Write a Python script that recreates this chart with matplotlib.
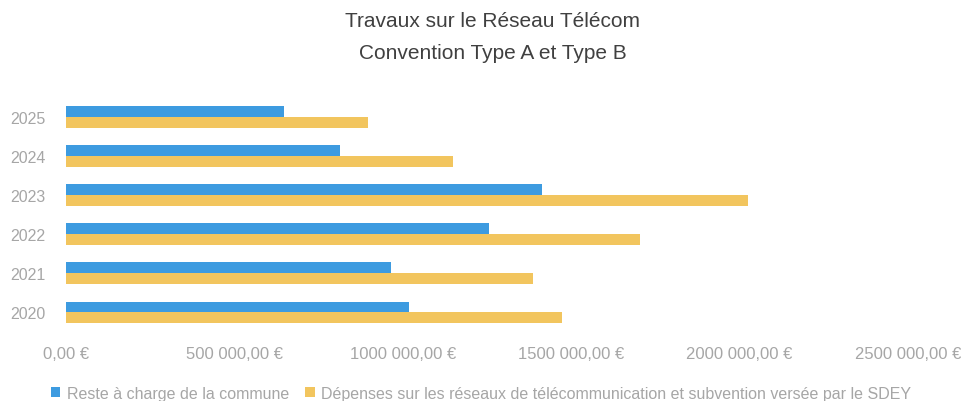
import matplotlib
matplotlib.use("Agg")
import matplotlib.pyplot as plt
import numpy as np
from matplotlib import font_manager

years = ["2020", "2021", "2022", "2023", "2024", "2025"]
reste_commune = [1019000, 965000, 1257000, 1412000, 814000, 647000]
depenses_sdey = [1472000, 1386000, 1705000, 2026000, 1150000, 898000]
x_ticks = [0, 500000, 1000000, 1500000, 2000000, 2500000]
x_tick_labels = ["0,00 €", "500 000,00 €", "1000 000,00 €", "1500 000,00 €",
                 "2000 000,00 €", "2500 000,00 €"]
series_names = ["Reste à charge de la commune",
                "Dépenses sur les réseaux de télécommunication et subvention versée par le SDEY"]
title_text = "Travaux sur le Réseau Télécom\nConvention Type A et Type B"

available = {f.name for f in font_manager.fontManager.ttflist}
fam = [f for f in ["Liberation Sans Narrow", "Liberation Sans", "DejaVu Sans"] if f in available]
plt.rcParams['font.family'] = fam

blue = "#3d9be0"
yellow = "#f2c55e"
grey = "#a6a6a6"

fig = plt.figure(figsize=(9.62, 4.02), dpi=100)
ax = fig.add_axes([0.0686, 0.1716, 0.8753, 0.5836])

y = np.arange(len(years))
h = 0.28
ax.barh(y + h / 2, reste_commune, height=h, color=blue, label=series_names[0])
ax.barh(y - h / 2, depenses_sdey, height=h, color=yellow, label=series_names[1])

ax.set_xlim(0, 2500000)
ax.set_ylim(-0.5, len(years) - 0.5)
ax.set_yticks(y)
ax.set_yticklabels(years, fontsize=11.5, color=grey)
ax.set_xticks(x_ticks)
ax.set_xticklabels(x_tick_labels, fontsize=12, color=grey)
ax.tick_params(axis='both', length=0)
ax.tick_params(axis='x', pad=10)
ax.tick_params(axis='y', pad=15)
for s in ax.spines.values():
    s.set_visible(False)

fig.text(0.512, 0.97, title_text, ha='center', va='top', fontsize=15,
         color="#404040", linespacing=1.85)

fig.legend(loc='lower center', bbox_to_anchor=(0.5, -0.035), ncol=2, frameon=False,
           fontsize=11.5, handlelength=0.6, handleheight=0.6, handletextpad=0.4,
           columnspacing=1.0, labelcolor=grey)

fig.savefig("out.png", dpi=100)
